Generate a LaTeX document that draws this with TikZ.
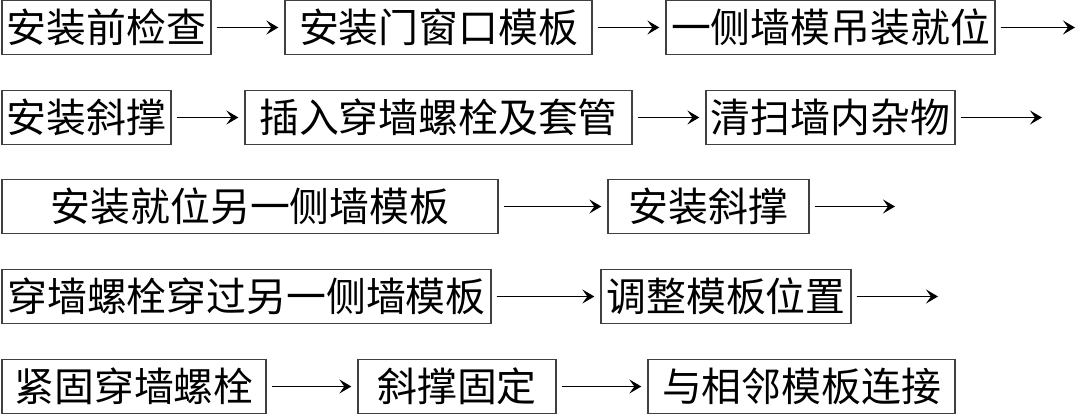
\documentclass[tikz,border=0pt]{standalone}
\usepackage{fontspec}
\setmainfont{Noto Sans CJK SC}
\usetikzlibrary{arrows.meta}

\begin{document}
\begin{tikzpicture}[x=1bp,y=1bp,
  stepbox/.style={draw=black!75,line width=1.3bp,inner sep=0pt,
    minimum height=54bp,font=\fontsize{40}{44}\selectfont},
  flow/.style={-{Stealth[length=12bp,width=14bp,inset=5bp]},line width=1.5bp,
    shorten <=5bp,shorten >=6bp}]
  \path[use as bounding box] (0,0) rectangle (1081,415);
  \fill[white] (0,0) rectangle (1081,415);

  \node[stepbox,minimum width=209bp] (chk)    at (106.5,387.5) {安装前检查};
  \node[stepbox,minimum width=307bp] (door)   at (438.5,387.5) {安装门窗口模板};
  \node[stepbox,minimum width=329bp] (hoist)  at (830.5,387.5) {一侧墙模吊装就位};
  \coordinate (end1) at (1081,387.5);

  \node[stepbox,minimum width=169bp] (brace)  at (86.5,297.5) {安装斜撑};
  \node[stepbox,minimum width=387bp] (bolt)   at (438.5,297.5) {插入穿墙螺栓及套管};
  \node[stepbox,minimum width=249bp] (clean)  at (830.5,297.5) {清扫墙内杂物};
  \coordinate (end2) at (1048,297.5);

  \node[stepbox,minimum width=496bp] (other)  at (250,208.5) {安装就位另一侧墙模板};
  \node[stepbox,minimum width=201bp] (braceb) at (708.5,208.5) {安装斜撑};
  \coordinate (end3) at (901,208.5);

  \node[stepbox,minimum width=489bp] (pass)   at (246.5,118.5) {穿墙螺栓穿过另一侧墙模板};
  \node[stepbox,minimum width=250bp] (adjust) at (726,118.5) {调整模板位置};
  \coordinate (end4) at (944,118.5);

  \node[stepbox,minimum width=264bp] (tight)  at (134,28.5) {紧固穿墙螺栓};
  \node[stepbox,minimum width=198bp] (fix)    at (457,28.5) {斜撑固定};
  \node[stepbox,minimum width=307bp] (link)   at (801.5,28.5) {与相邻模板连接};

  \draw[flow] (chk) -- (door);
  \draw[flow] (door) -- (hoist);
  \draw[flow] (hoist) -- (end1);
  \draw[flow] (brace) -- (bolt);
  \draw[flow] (bolt) -- (clean);
  \draw[flow] (clean) -- (end2);
  \draw[flow] (other) -- (braceb);
  \draw[flow] (braceb) -- (end3);
  \draw[flow] (pass) -- (adjust);
  \draw[flow] (adjust) -- (end4);
  \draw[flow] (tight) -- (fix);
  \draw[flow] (fix) -- (link);
\end{tikzpicture}
\end{document}
